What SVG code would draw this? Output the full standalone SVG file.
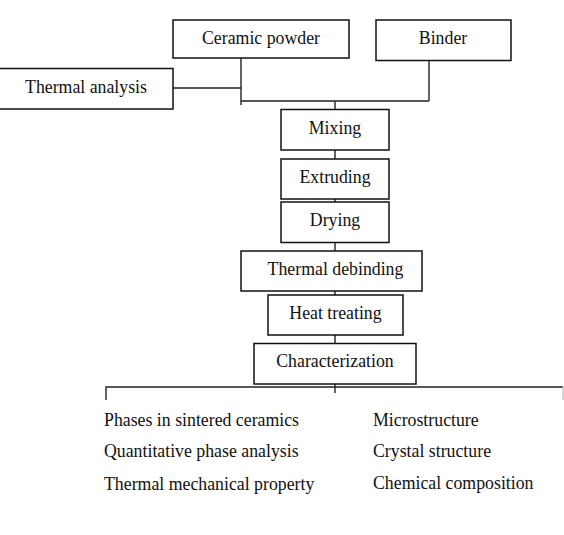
<svg xmlns="http://www.w3.org/2000/svg" width="564" height="535" viewBox="0 0 564 535">
<style>
.box{fill:#fff;stroke:#111;stroke-width:1.5}
.ln{fill:none;stroke:#222;stroke-width:1.4}
.faint{fill:none;stroke:#bbb;stroke-width:1.2}
text{font-family:"Liberation Serif","Times New Roman",serif;font-size:17.8px;fill:#111}
.c{text-anchor:middle}
</style>
<rect width="564" height="535" fill="#fff"/>
<g id="connectors">
<path class="ln" d="M173 88H241M241 58V105M429 60V101M241 101H429M335 101V109"/>
<path class="ln" d="M335 150V159M335 199V202M335 243V251M335 291V295M335 335V343M335 384V393"/>
<path class="ln" d="M106 400V387H563"/>
<path class="faint" d="M563 387V400"/>
</g>
<g id="ceramic"><rect class="box" x="173" y="20" width="176" height="38"/><text class="c" x="261" y="43.5">Ceramic powder</text></g>
<g id="binder"><rect class="box" x="376" y="20" width="135" height="40.5"/><text class="c" x="443" y="43.5">Binder</text></g>
<g id="thermal-analysis"><rect class="box" x="-1" y="68.5" width="174" height="40.5"/><text class="c" x="86" y="92.5">Thermal analysis</text></g>
<g id="mixing"><rect class="box" x="281" y="109.5" width="108" height="40.5"/><text class="c" x="335" y="133.5">Mixing</text></g>
<g id="extruding"><rect class="box" x="281" y="159" width="108" height="40"/><text class="c" x="335" y="182.5">Extruding</text></g>
<g id="drying"><rect class="box" x="281" y="202" width="108" height="40.5"/><text class="c" x="335" y="226">Drying</text></g>
<g id="thermal-debinding"><rect class="box" x="241" y="251" width="181" height="40"/><text class="c" x="335.5" y="274.5">Thermal debinding</text></g>
<g id="heat-treating"><rect class="box" x="268" y="295" width="135" height="40"/><text class="c" x="335.5" y="318.5">Heat treating</text></g>
<g id="characterization"><rect class="box" x="254" y="343.5" width="162" height="40.5"/><text class="c" x="335" y="367">Characterization</text></g>
<g id="results">
<text x="104" y="425.5">Phases in sintered ceramics</text>
<text x="104" y="457">Quantitative phase analysis</text>
<text x="104" y="490">Thermal mechanical property</text>
<text x="373" y="425.5">Microstructure</text>
<text x="373" y="457">Crystal structure</text>
<text x="373" y="488.5">Chemical composition</text>
</g>
</svg>
